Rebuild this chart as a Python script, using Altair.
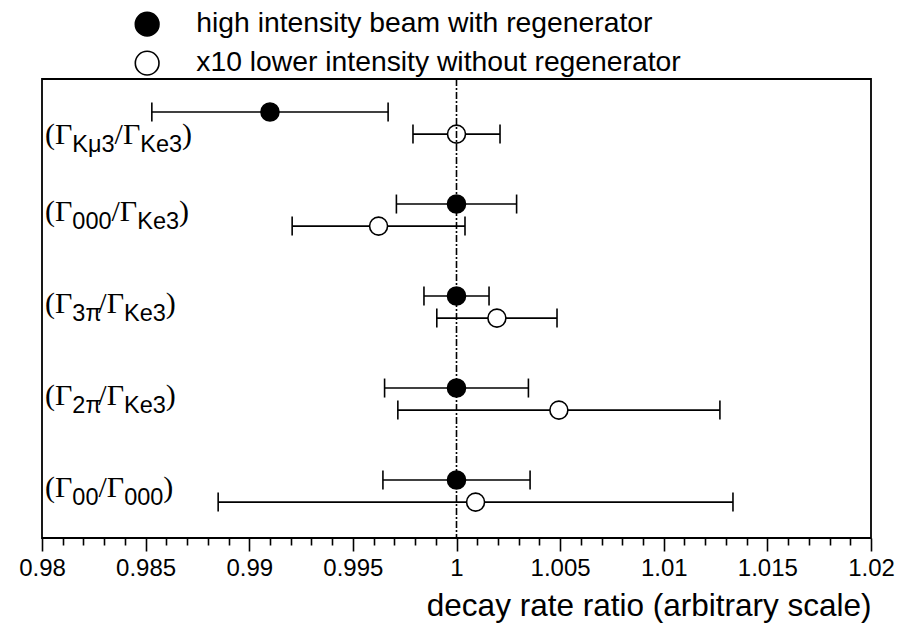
import altair as alt
import pandas as pd

# ---------------- data ----------------
ratio_num = ["Kμ3", "000", "3π", "2π", "00"]
ratio_den = ["Ke3", "Ke3", "Ke3", "Ke3", "000"]
series_names = ["high intensity beam with regenerator",
                "x10 lower intensity without regenerator"]
high_value = [0.9910, 1.0000, 1.0000, 1.0000, 1.0000]
high_error = [0.0057, 0.0029, 0.00157, 0.00347, 0.00355]
low_value = [1.0000, 0.99624, 1.00195, 1.00494, 1.00092]
low_error = [0.0021, 0.00417, 0.0029, 0.00777, 0.01242]
x_ticks = [0.98, 0.985, 0.99, 0.995, 1.0, 1.005, 1.01, 1.015, 1.02]
x_minor_ticks = [round(0.98 + 0.001 * i, 3) for i in range(41) if i % 5]
reference_value = [1.0]

# ---------------- layout ----------------
W, H = 829, 459
OPEN_OFFSET = 0.24
label_rows = [0.35, 1.18, 2.18, 3.18, 4.18]
y_domain = [-0.359, 4.63]

MAIN_FONT, SUB_FONT = "Liberation Serif", "Liberation Sans"
MAIN_FS, SUB_FS = 30, 23.5
KERN, X0, SUB_DY = 0, 3, 8
serif_w = {"(": 0.333, ")": 0.333, "/": 0.278, "Γ": 0.578}
sans_w = {"K": 0.667, "e": 0.556, "μ": 0.576, "π": 0.55}


def w_main(s):
    return sum(serif_w.get(c, 0.5) for c in s) * MAIN_FS


def w_sub(s):
    return sum(sans_w.get(c, 0.556) for c in s) * SUB_FS


rows = []
for i in range(5):
    rows.append(dict(series=series_names[0], value=high_value[i],
                     lo=high_value[i] - high_error[i], hi=high_value[i] + high_error[i],
                     row=i))
    rows.append(dict(series=series_names[1], value=low_value[i],
                     lo=low_value[i] - low_error[i], hi=low_value[i] + low_error[i],
                     row=i + OPEN_OFFSET))
df = pd.DataFrame(rows)

xscale = alt.Scale(domain=[0.98, 1.02], nice=False, zero=False)
yscale = alt.Scale(domain=y_domain, reverse=True, nice=False, zero=False)

major_axis = alt.Axis(
    values=x_ticks, format="~g", tickSize=13, tickWidth=1.6, tickColor="black",
    domain=False, grid=False, labelFont="Liberation Sans", labelFontSize=24,
    labelColor="black", labelPadding=5, labelFlush=False, labelOverlap=False,
    title="decay rate ratio (arbitrary scale)", titleFont="Liberation Sans",
    titleFontSize=31.5, titleFontWeight="normal", titleColor="black",
    titleX=W, titleY=77, titleAlign="right", titleBaseline="alphabetic",
    orient="bottom",
)
minor_axis = alt.Axis(
    values=x_minor_ticks, labels=False, tickSize=7, tickWidth=1.6,
    tickColor="black", domain=False, grid=False, title=None, orient="bottom",
)

base = alt.Chart(df)

err_rules = base.mark_rule(color="black", strokeWidth=1.6).encode(
    x=alt.X("lo:Q", scale=xscale, axis=None),
    x2="hi:Q",
    y=alt.Y("row:Q", scale=yscale, axis=None),
)
cap_shape = "M0,-1L0,1"
caps_lo = base.mark_point(shape=cap_shape, size=361, filled=False, color="black",
                          strokeWidth=1.6, opacity=1).encode(
    x=alt.X("lo:Q", scale=xscale, axis=None),
    y=alt.Y("row:Q", scale=yscale, axis=None),
)
caps_hi = base.mark_point(shape=cap_shape, size=361, filled=False, color="black",
                          strokeWidth=1.6, opacity=1).encode(
    x=alt.X("hi:Q", scale=xscale, axis=minor_axis),
    y=alt.Y("row:Q", scale=yscale, axis=None),
)
points = base.mark_point(shape="circle", filled=True, size=324, stroke="black",
                         strokeWidth=1.6, opacity=1).encode(
    x=alt.X("value:Q", scale=xscale, axis=major_axis),
    y=alt.Y("row:Q", scale=yscale, axis=None),
    fill=alt.Fill("series:N",
                  scale=alt.Scale(domain=series_names, range=["black", "white"]),
                  legend=alt.Legend(
                      title=None, orient="none", legendX=91, legendY=-69,
                      labelFont="Liberation Sans", labelFontSize=28.3,
                      labelColor="black", symbolSize=560, symbolType="circle",
                      symbolStrokeColor="black", symbolStrokeWidth=1.6,
                      symbolOpacity=1, labelOffset=35, rowPadding=8,
                      padding=0, labelLimit=0)),
)
ref_line = alt.Chart(pd.DataFrame({"v": reference_value})).mark_rule(
    color="black", strokeWidth=1.6, strokeDash=[7, 2, 2, 2]).encode(
    x=alt.X("v:Q", scale=xscale, axis=None)
)

layers = [err_rules, caps_lo, caps_hi, points, ref_line]

for i in range(5):
    dl = pd.DataFrame({"x": [0.98], "row": [label_rows[i]],
                       "num": [ratio_num[i]], "den": [ratio_den[i]]})
    lb = alt.Chart(dl)
    enc = dict(x=alt.X("x:Q", scale=xscale, axis=None),
               y=alt.Y("row:Q", scale=yscale, axis=None))
    d0 = X0
    d1 = d0 + w_main("(Γ") + KERN
    d2 = d1 + w_sub(ratio_num[i])
    d3 = d2 + w_main("/Γ") + KERN
    d4 = d3 + w_sub(ratio_den[i])
    mk_main = dict(align="left", baseline="alphabetic", font=MAIN_FONT,
                   fontSize=MAIN_FS, color="black")
    mk_sub = dict(align="left", baseline="alphabetic", font=SUB_FONT,
                  fontSize=SUB_FS, color="black")
    layers.append(lb.mark_text(text="(Γ", dx=d0, **mk_main).encode(**enc))
    layers.append(lb.mark_text(dx=d1, dy=SUB_DY, **mk_sub).encode(text="num:N", **enc))
    layers.append(lb.mark_text(text="/Γ", dx=d2, **mk_main).encode(**enc))
    layers.append(lb.mark_text(dx=d3, dy=SUB_DY, **mk_sub).encode(text="den:N", **enc))
    layers.append(lb.mark_text(text=")", dx=d4, **mk_main).encode(**enc))

chart = alt.layer(*layers).resolve_axis(x="independent").properties(
    width=W, height=H,
    autosize=alt.AutoSizeParams(type="none"),
    padding={"left": 42, "top": 79, "right": 28, "bottom": 85},
    background="white",
).configure_view(stroke="black", strokeWidth=1.8)

chart.save("out.html", embed_options={"renderer": "svg", "actions": False})
